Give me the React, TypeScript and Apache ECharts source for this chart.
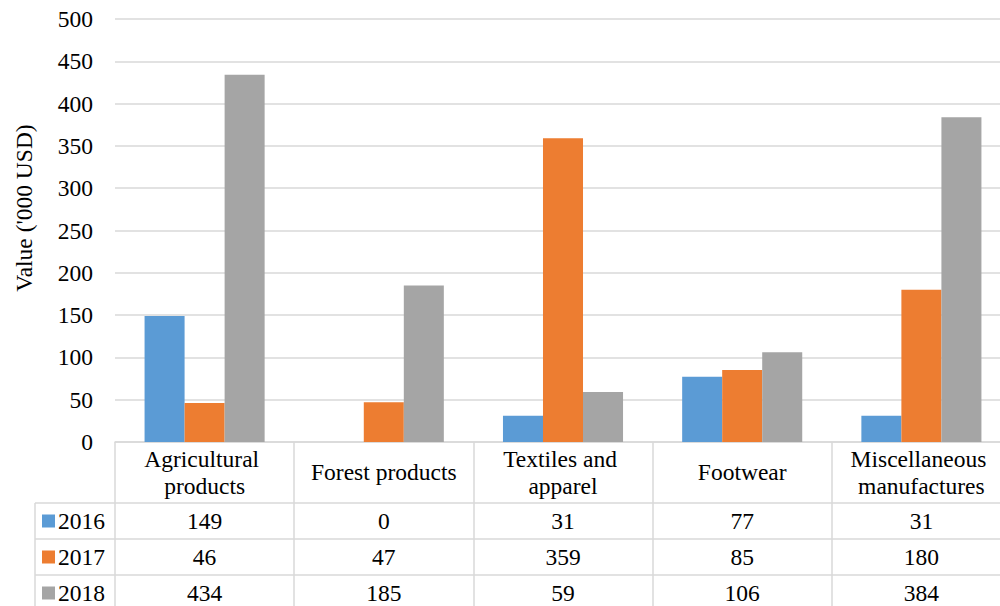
import React, { useEffect, useRef } from "react";
import * as echarts from "echarts";

const categories = [
  "Agricultural products",
  "Forest products",
  "Textiles and apparel",
  "Footwear",
  "Miscellaneous manufactures",
];
const seriesNames = ["2016", "2017", "2018"];
const values2016 = [149, 0, 31, 77, 31];
const values2017 = [46, 47, 359, 85, 180];
const values2018 = [434, 185, 59, 106, 384];
const yTicks = [0, 50, 100, 150, 200, 250, 300, 350, 400, 450, 500];
const colors = ["#5B9BD5", "#ED7D31", "#A5A5A5"];
const yAxisTitle = "Value ('000 USD)";

const FONT = "Liberation Serif";
const FS = 23.5;
const GRID_COLOR = "#D9D9D9";

export default function App() {
  const ref = useRef<HTMLDivElement>(null);

  useEffect(() => {
    if (!ref.current) return;
    const chart = echarts.init(ref.current, undefined, { renderer: "svg" });
    const allValues = [values2016, values2017, values2018];

    chart.setOption({
      animation: false,
      backgroundColor: "#ffffff",
      textStyle: { fontFamily: FONT },
      grid: {
        left: 115,
        right: 1,
        top: 19,
        bottom: 164,
        containLabel: false,
        outerBoundsMode: "none",
      },
      xAxis: {
        type: "category",
        data: categories,
        axisLine: { show: true, lineStyle: { color: GRID_COLOR, width: 1.5 } },
        axisTick: { show: true, length: 175, lineStyle: { color: GRID_COLOR, width: 1.5 } },
        axisLabel: {
          interval: 0,
          fontFamily: FONT,
          fontSize: FS,
          color: "#000",
          lineHeight: 27,
          margin: 30,
          verticalAlign: "middle",
          width: 172,
          overflow: "break",
        },
      },
      yAxis: {
        type: "value",
        min: yTicks[0],
        max: yTicks[yTicks.length - 1],
        interval: yTicks[1] - yTicks[0],
        axisLine: { show: false },
        axisTick: { show: false },
        axisLabel: { fontFamily: FONT, fontSize: FS, color: "#000", margin: 22 },
        splitLine: { lineStyle: { color: GRID_COLOR, width: 1.5 } },
      },
      series: seriesNames.map((name, si) => ({
        name,
        type: "bar",
        data: allValues[si],
        barGap: "0%",
        barCategoryGap: "33%",
        itemStyle: { color: colors[si] },
      })),
    });

    // Data table below the chart, positioned from the category axis
    const rowTop = [503, 539, 575];
    const rowCenters = [521, 557, 593];
    const graphics: any[] = [];
    const leftX = 35;
    const rightX = 1012;

    graphics.push({
      type: "text",
      x: 24,
      y: 208,
      rotation: Math.PI / 2,
      style: {
        text: yAxisTitle,
        fontFamily: FONT,
        fontSize: FS,
        fill: "#000",
        textAlign: "center",
        textVerticalAlign: "middle",
      },
      silent: true,
    });

    rowTop.forEach((y) => {
      graphics.push({
        type: "line",
        shape: { x1: leftX, y1: y, x2: rightX, y2: y },
        style: { stroke: GRID_COLOR, lineWidth: 1.5 },
        silent: true,
      });
    });
    graphics.push({
      type: "line",
      shape: { x1: leftX, y1: rowTop[0], x2: leftX, y2: 620 },
      style: { stroke: GRID_COLOR, lineWidth: 1.5 },
      silent: true,
    });
    seriesNames.forEach((name, si) => {
      const cy = rowCenters[si];
      graphics.push({
        type: "rect",
        shape: { x: 42, y: cy - 6.5, width: 13, height: 13 },
        style: { fill: colors[si] },
        silent: true,
      });
      graphics.push({
        type: "text",
        x: 58,
        y: cy,
        style: {
          text: name,
          fontFamily: FONT,
          fontSize: FS,
          fill: "#000",
          textAlign: "left",
          textVerticalAlign: "middle",
        },
        silent: true,
      });
      categories.forEach((cat, ci) => {
        const px = chart.convertToPixel({ xAxisIndex: 0 }, cat) as number;
        graphics.push({
          type: "text",
          x: px,
          y: cy,
          style: {
            text: String(allValues[si][ci]),
            fontFamily: FONT,
            fontSize: FS,
            fill: "#000",
            textAlign: "center",
            textVerticalAlign: "middle",
          },
          silent: true,
        });
      });
    });
    chart.setOption({ graphic: graphics });

    return () => chart.dispose();
  }, []);

  return (
    <div
      style={{
        position: "fixed",
        left: 0,
        top: 0,
        width: 1000,
        height: 606,
        overflow: "hidden",
        background: "#fff",
      }}
    >
      <div ref={ref} style={{ width: 1012, height: 606 }} />
    </div>
  );
}
